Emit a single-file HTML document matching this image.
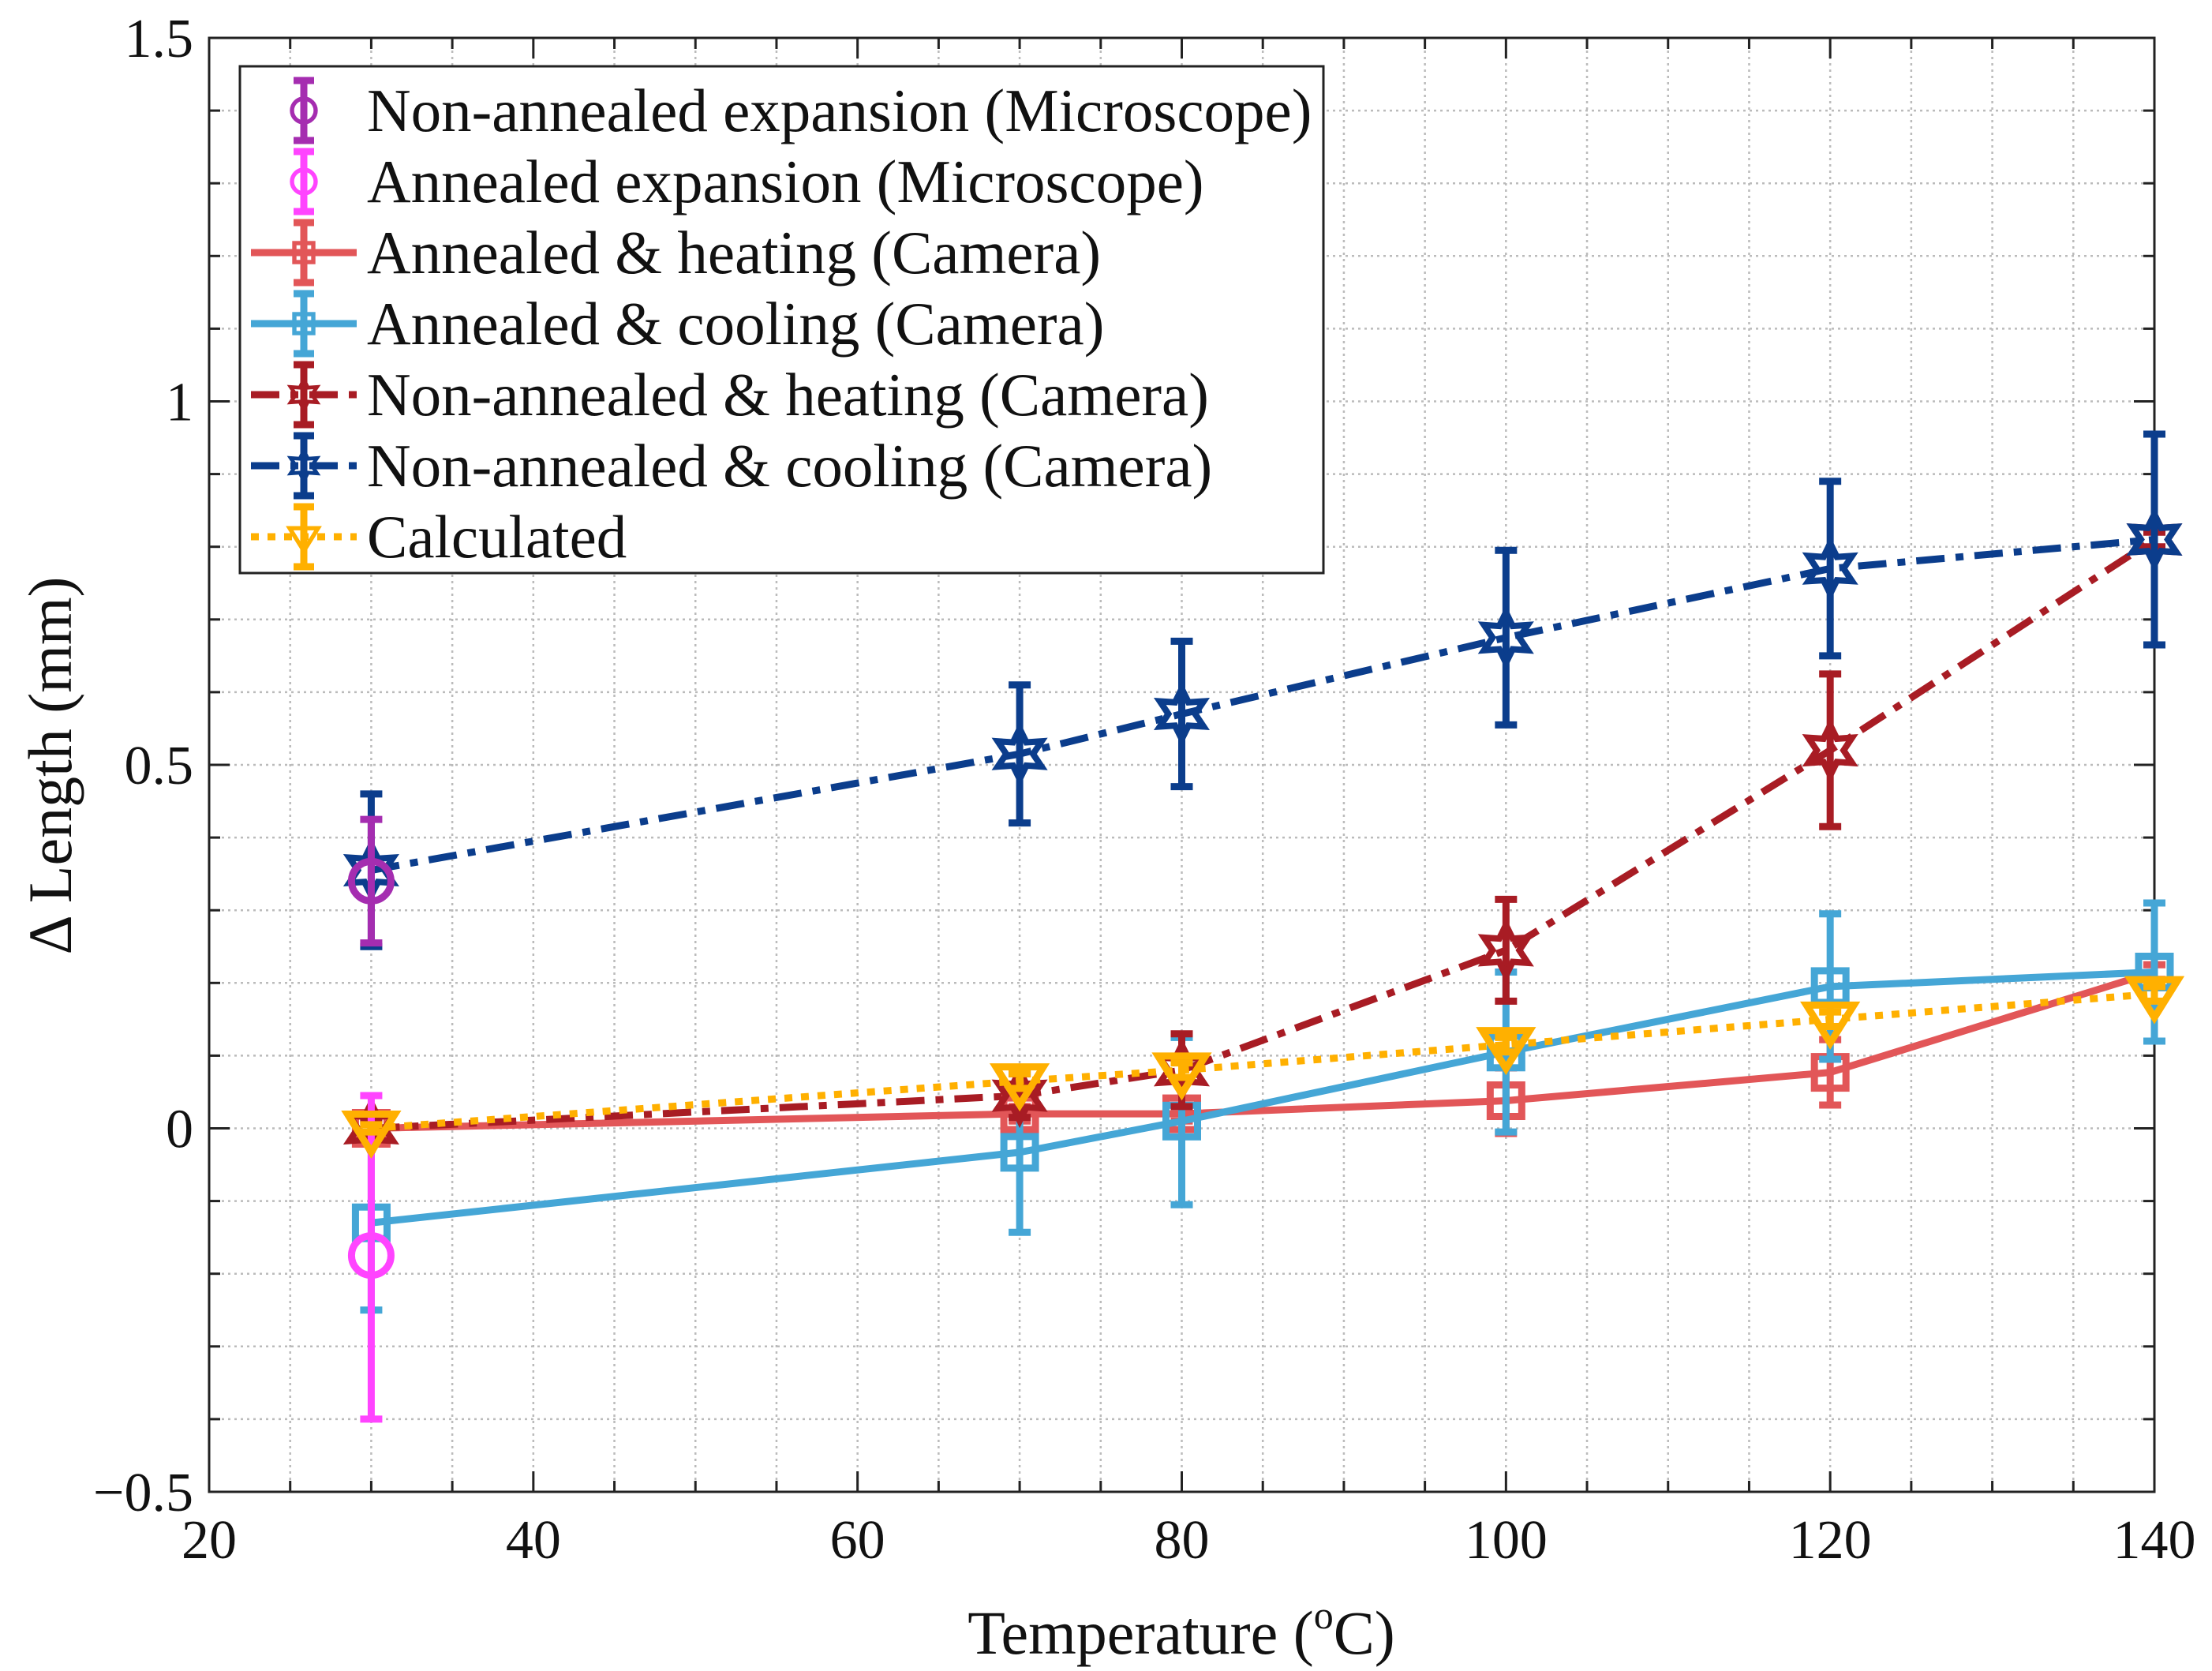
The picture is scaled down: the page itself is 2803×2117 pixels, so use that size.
<!DOCTYPE html>
<html><head><meta charset="utf-8"><style>
html,body{margin:0;padding:0;background:#fff;}
svg{display:block;font-family:"Liberation Serif",serif;}
</style></head><body>
<svg id="chart" width="2803" height="2117" viewBox="0 0 2803 2117">
<g id="grid"></g>
<g id="axes"></g>
<g id="series"></g>
<g id="legend"></g>
<text x="1497" y="2095" font-size="78" text-anchor="middle" fill="#111">Temperature (<tspan font-size="50" dy="-32">o</tspan><tspan dy="32">C)</tspan></text>
<text x="0" y="0" font-size="78" text-anchor="middle" fill="#111" transform="translate(90,970) rotate(-90)">Δ Length (mm)</text>
</svg>
<script>
const xTicks=[20,40,60,80,100,120,140];
const yTicks=[-0.5,0,0.5,1,1.5];
const yTickLabels=["\u22120.5","0","0.5","1","1.5"];
const temps=[30,70,80,100,120,140];
const micNonAnnealedY=[0.34]; const micNonAnnealedErr=[0.085];
const micAnnealedY=[-0.175]; const micAnnealedLo=[0.225]; const micAnnealedHi=[0.22];
const annHeatY=[0,0.02,0.02,0.038,0.077,0.215];
const annHeatErr=[0.01,0.01,0.01,0.045,0.045,0.01];
const annCoolY=[-0.13,-0.033,0.01,0.105,0.195,0.215];
const annCoolErr=[0.12,0.11,0.115,0.11,0.1,0.095];
const nonHeatY=[0,0.045,0.08,0.245,0.52,0.81];
const nonHeatErr=[0.01,0.03,0.05,0.07,0.105,0.01];
const nonCoolY=[0.355,0.515,0.57,0.675,0.77,0.81];
const nonCoolErr=[0.105,0.095,0.1,0.12,0.12,0.145];
const calcY=[0,0.065,0.08,0.115,0.15,0.185];
const calcErr=[0.005,0.01,0.01,0.01,0.01,0.01];

const L=265,R=2730,T=48,B=1890;
const X=v=>L+(v-20)/120*(R-L);
const Y=v=>B-(v+0.5)/2*(B-T);
const NS="http://www.w3.org/2000/svg";
function mk(tag,attrs,parent){const e=document.createElementNS(NS,tag);for(const k in attrs)e.setAttribute(k,attrs[k]);parent.appendChild(e);return e;}
const grid=document.getElementById('grid'),axes=document.getElementById('axes'),series=document.getElementById('series'),legend=document.getElementById('legend');
for(let v=25;v<140;v+=5){const l=mk('line',{x1:X(v),x2:X(v),y1:T,y2:B,stroke:'#bbb','stroke-width':2.5,'stroke-dasharray':'3 5'},grid);

}
for(let i=-4;i<15;i++){const v=i/10;const l=mk('line',{x1:L,x2:R,y1:Y(v),y2:Y(v),stroke:'#bbb','stroke-width':2.5,'stroke-dasharray':'3 5'},grid);

}
for(let v=25;v<140;v+=5){const maj=v%20===0;const len=maj?26:14;
mk('line',{x1:X(v),x2:X(v),y1:B,y2:B-len,stroke:'#222','stroke-width':3},axes);
mk('line',{x1:X(v),x2:X(v),y1:T,y2:T+len,stroke:'#222','stroke-width':3},axes);}
for(let i=-4;i<15;i++){const v=i/10;const maj=i%5===0;const len=maj?26:14;
mk('line',{x1:L,x2:L+len,y1:Y(v),y2:Y(v),stroke:'#222','stroke-width':3},axes);
mk('line',{x1:R,x2:R-len,y1:Y(v),y2:Y(v),stroke:'#222','stroke-width':3},axes);}
const fr=mk('rect',{x:L,y:T,width:R-L,height:B-T,fill:'none',stroke:'#222','stroke-width':3},axes);


xTicks.forEach(v=>{const t=mk('text',{x:X(v),y:B+84,'font-size':70,'text-anchor':'middle',fill:'#111'},axes);t.textContent=v;

});
yTicks.forEach((v,i)=>{const t=mk('text',{x:L-20,y:Y(v)+24,'font-size':70,'text-anchor':'end',fill:'#111'},axes);t.textContent=yTickLabels[i];

});

function marker(type,cx,cy,color,parent){
 const sw=9;
 if(type==='circle')return mk('circle',{cx,cy,r:25,fill:'none',stroke:color,'stroke-width':sw},parent);
 if(type==='square')return mk('rect',{x:cx-20,y:cy-20,width:40,height:40,fill:'none',stroke:color,'stroke-width':sw},parent);
 if(type==='tri'){const s=30;return mk('polygon',{points:`${cx-s},${cy-s*0.6} ${cx+s},${cy-s*0.6} ${cx},${cy+s}`,fill:'none',stroke:color,'stroke-width':sw,'stroke-linejoin':'miter'},parent);}
 if(type==='star'){let p=[];for(let k=0;k<12;k++){const a=-Math.PI/2+k*Math.PI/6;const r=k%2===0?32:17;p.push((cx+r*Math.cos(a)).toFixed(1)+','+(cy+r*Math.sin(a)).toFixed(1));}
 return mk('polygon',{points:p.join(' '),fill:'none',stroke:color,'stroke-width':8},parent);}
}
function errbar(cx,y,lo,hi,color,parent){
 const g=mk('g',{stroke:color,'stroke-width':9},parent);
 mk('line',{x1:cx,x2:cx,y1:Y(y-lo),y2:Y(y+hi)},g);
 mk('line',{x1:cx-14,x2:cx+14,y1:Y(y-lo),y2:Y(y-lo)},g);
 mk('line',{x1:cx-14,x2:cx+14,y1:Y(y+hi),y2:Y(y+hi)},g);
 return g;}
function drawSeries(name,xs,ys,lo,hi,color,dash,mtype){
 const g=mk('g',{},series);
 
 
 if(xs.length>1){const pl=mk('polyline',{points:xs.map((x,i)=>X(x)+','+Y(ys[i])).join(' '),fill:'none',stroke:color,'stroke-width':9,'stroke-dasharray':dash,'stroke-linejoin':'round'},g);
 
 }
 xs.forEach((x,i)=>{const eb=errbar(X(x),ys[i],lo[i],hi[i],color,g);
 
 
 const m=marker(mtype,X(x),Y(ys[i]),color,g);
 
 });
}
const C={purple:'#A52DB0',mag:'#FF44FF',red:'#E25658',blue:'#45A6D6',dred:'#A81C24',navy:'#0B3D8C',org:'#FFB000'};
const DD='36 14 10 14';
drawSeries('annealed-heating',temps,annHeatY,annHeatErr,annHeatErr,C.red,'none','square');
drawSeries('annealed-cooling',temps,annCoolY,annCoolErr,annCoolErr,C.blue,'none','square');
drawSeries('non-annealed-heating',temps,nonHeatY,nonHeatErr,nonHeatErr,C.dred,DD,'star');
drawSeries('non-annealed-cooling',temps,nonCoolY,nonCoolErr,nonCoolErr,C.navy,DD,'star');
drawSeries('non-annealed-microscope',[30],micNonAnnealedY,micNonAnnealedErr,micNonAnnealedErr,C.purple,'none','circle');
drawSeries('annealed-microscope',[30],micAnnealedY,micAnnealedLo,micAnnealedHi,C.mag,'none','circle');
drawSeries('calculated',temps,calcY,calcErr,calcErr,C.org,'10 11','tri');

const lb=mk('rect',{x:304,y:84,width:1373,height:642,fill:'#fff',stroke:'#222','stroke-width':3},legend);


const legLabels=["Non-annealed expansion (Microscope)","Annealed expansion (Microscope)","Annealed & heating (Camera)","Annealed & cooling (Camera)","Non-annealed & heating (Camera)","Non-annealed & cooling (Camera)","Calculated"];
const legColors=[C.purple,C.mag,C.red,C.blue,C.dred,C.navy,C.org];
const legDash=[null,null,'none','none',DD,DD,'10 11'];
const legMark=['circle','circle','square','square','star','star','tri'];
legLabels.forEach((lab,i)=>{const cy=140+i*90;const g=mk('g',{},legend);
 
 
 if(legDash[i])mk('line',{x1:318,x2:452,y1:cy,y2:cy,stroke:legColors[i],'stroke-width':9,'stroke-dasharray':legDash[i]},g);
 const gg=mk('g',{stroke:legColors[i],'stroke-width':9},g);
 mk('line',{x1:385,x2:385,y1:cy-38,y2:cy+38},gg);mk('line',{x1:372,x2:398,y1:cy-38,y2:cy-38},gg);mk('line',{x1:372,x2:398,y1:cy+38,y2:cy+38},gg);
 const m=marker(legMark[i],385,cy,legColors[i],g);m.setAttribute('transform',`translate(385,${cy}) scale(0.6) translate(-385,${-cy})`);
 const t=mk('text',{x:465,y:cy+26,'font-size':77,fill:'#111'},g);t.textContent=lab;});
</script>
</body></html>
